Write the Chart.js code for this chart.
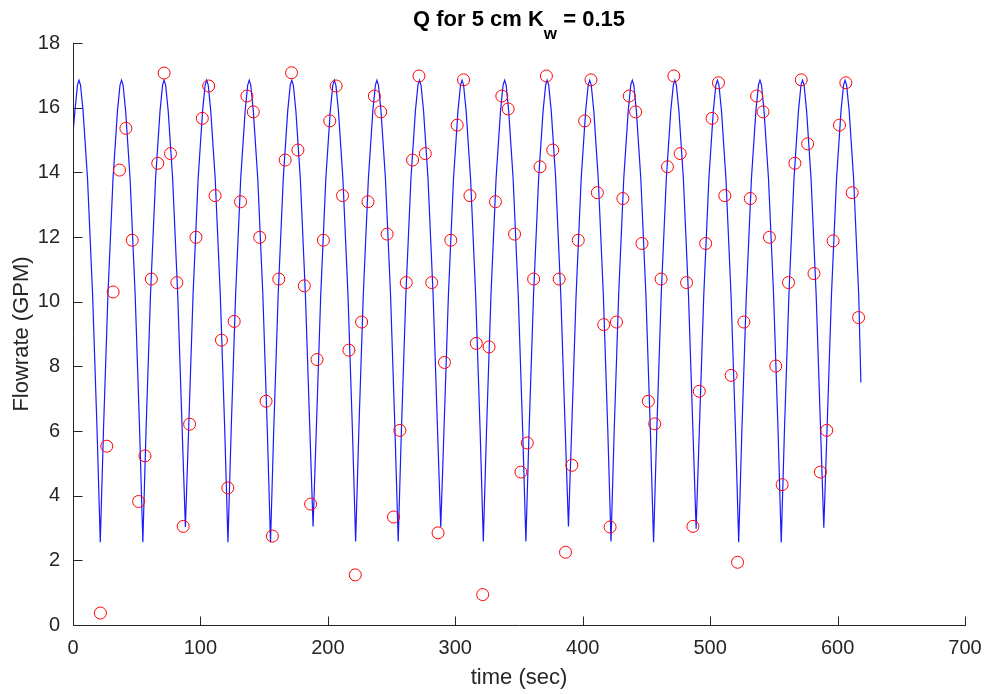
<!DOCTYPE html>
<html>
<head>
<meta charset="utf-8">
<script src="https://cdn.jsdelivr.net/npm/chart.js@4.4.1/dist/chart.umd.min.js"></script>
<style>
  html, body { margin: 0; padding: 0; background: #fff; }
  #wrap { width: 987px; height: 694px; }
</style>
</head>
<body>
<div id="wrap"><canvas id="chart" width="987" height="694"></canvas></div>
<script>
// labels
const titleMain = 'Q for 5 cm K';
const titleSub = 'w';
const titleTail = ' = 0.15';
const xLabel = 'time (sec)';
const yLabel = 'Flowrate (GPM)';

const xTicks = [0, 100, 200, 300, 400, 500, 600, 700];
const yTicks = [0, 2, 4, 6, 8, 10, 12, 14, 16, 18];

// measured flow (red circles), one every 5 s
const sampleTime = [
  21.5, 26.5, 31.5, 36.5, 41.5, 46.5, 51.5, 56.5, 61.5, 66.5,
  71.5, 76.5, 81.5, 86.5, 91.5, 96.5, 101.5, 106.5, 111.5, 116.5,
  121.5, 126.5, 131.5, 136.5, 141.5, 146.5, 151.5, 156.5, 161.5, 166.5,
  171.5, 176.5, 181.5, 186.5, 191.5, 196.5, 201.5, 206.5, 211.5, 216.5,
  221.5, 226.5, 231.5, 236.5, 241.5, 246.5, 251.5, 256.5, 261.5, 266.5,
  271.5, 276.5, 281.5, 286.5, 291.5, 296.5, 301.5, 306.5, 311.5, 316.5,
  321.5, 326.5, 331.5, 336.5, 341.5, 346.5, 351.5, 356.5, 361.5, 366.5,
  371.5, 376.5, 381.5, 386.5, 391.5, 396.5, 401.5, 406.5, 411.5, 416.5,
  421.5, 426.5, 431.5, 436.5, 441.5, 446.5, 451.5, 456.5, 461.5, 466.5,
  471.5, 476.5, 481.5, 486.5, 491.5, 496.5, 501.5, 506.5, 511.5, 516.5,
  521.5, 526.5, 531.5, 536.5, 541.5, 546.5, 551.5, 556.5, 561.5, 566.5,
  571.5, 576.5, 581.5, 586.5, 591.5, 596.5, 601.5, 606.5, 611.5, 616.5
];
const sampleFlow = [
  0.37, 5.53, 10.30, 14.07, 15.36, 11.90, 3.82, 5.23, 10.70, 14.28,
  17.07, 14.58, 10.59, 3.05, 6.21, 11.99, 15.67, 16.67, 13.28, 8.81,
  4.24, 9.39, 13.09, 16.36, 15.87, 11.99, 6.92, 2.75, 10.70, 14.38,
  17.08, 14.69, 10.49, 3.74, 8.21, 11.90, 15.59, 16.67, 13.28, 8.50,
  1.55, 9.37, 13.09, 16.36, 15.87, 12.09, 3.34, 6.02, 10.59, 14.38,
  16.98, 14.58, 10.59, 2.85, 8.12, 11.90, 15.46, 16.86, 13.28, 8.71,
  0.94, 8.60, 13.09, 16.36, 15.96, 12.09, 4.73, 5.63, 10.70, 14.17,
  16.98, 14.69, 10.70, 2.25, 4.94, 11.90, 15.59, 16.86, 13.37, 9.29,
  3.03, 9.37, 13.19, 16.36, 15.87, 11.80, 6.92, 6.22, 10.70, 14.17,
  16.98, 14.58, 10.59, 3.05, 7.23, 11.80, 15.67, 16.77, 13.28, 7.72,
  1.94, 9.37, 13.19, 16.36, 15.87, 11.99, 8.01, 4.34, 10.59, 14.28,
  16.86, 14.88, 10.87, 4.73, 6.02, 11.88, 15.46, 16.77, 13.37, 9.51
];

// model flow (blue line), one row per cycle
const modelTime = [
  0, 1.5, 3.5, 4.7, 5.9, 7.9, 11.4, 15.4, 18.9, 21.4,
  23.9, 27.4, 31.4, 34.9, 36.9, 38.1, 39.3, 41.3, 44.8, 48.8, 52.3, 54.8,
  57.3, 60.8, 64.8, 68.3, 70.3, 71.5, 72.7, 74.7, 78.2, 82.2, 85.7, 88.2,
  90.7, 94.2, 98.2, 101.7, 103.7, 104.9, 106.1, 108.1, 111.6, 115.6, 119.1, 121.6,
  124.1, 127.6, 131.6, 135.1, 137.1, 138.3, 139.5, 141.5, 145.0, 149.0, 152.5, 155.0,
  157.5, 161.0, 165.0, 168.5, 170.5, 171.7, 172.9, 174.9, 178.4, 182.4, 185.9, 188.4,
  190.9, 194.4, 198.4, 201.9, 203.9, 205.1, 206.3, 208.3, 211.8, 215.8, 219.3, 221.8,
  224.3, 227.8, 231.8, 235.3, 237.3, 238.5, 239.7, 241.7, 245.2, 249.2, 252.7, 255.2,
  257.7, 261.2, 265.2, 268.7, 270.7, 271.9, 273.1, 275.1, 278.6, 282.6, 286.1, 288.6,
  291.1, 294.6, 298.6, 302.1, 304.1, 305.3, 306.5, 308.5, 312.0, 316.0, 319.5, 322.0,
  324.5, 328.0, 332.0, 335.5, 337.5, 338.7, 339.9, 341.9, 345.4, 349.4, 352.9, 355.4,
  357.9, 361.4, 365.4, 368.9, 370.9, 372.1, 373.3, 375.3, 378.8, 382.8, 386.3, 388.8,
  391.3, 394.8, 398.8, 402.3, 404.3, 405.5, 406.7, 408.7, 412.2, 416.2, 419.7, 422.2,
  424.7, 428.2, 432.2, 435.7, 437.7, 438.9, 440.1, 442.1, 445.6, 449.6, 453.1, 455.6,
  458.1, 461.6, 465.6, 469.1, 471.1, 472.3, 473.5, 475.5, 479.0, 483.0, 486.5, 489.0,
  491.5, 495.0, 499.0, 502.5, 504.5, 505.7, 506.9, 508.9, 512.4, 516.4, 519.9, 522.4,
  524.9, 528.4, 532.4, 535.9, 537.9, 539.1, 540.3, 542.3, 545.8, 549.8, 553.3, 555.8,
  558.3, 561.8, 565.8, 569.3, 571.3, 572.5, 573.7, 575.7, 579.2, 583.2, 586.7, 589.2,
  591.7, 595.2, 599.2, 602.7, 604.7, 605.9, 607.1, 609.1, 612.6, 616.6, 618.3
];
const modelFlow = [
  15.2, 15.9, 16.7, 16.85, 16.7, 15.9, 13.8, 10.2, 6.0, 2.56,
  6.0, 10.2, 13.8, 15.9, 16.7, 16.85, 16.7, 15.9, 13.8, 10.2, 6.0, 2.56,
  6.0, 10.2, 13.8, 15.9, 16.7, 16.85, 16.7, 15.9, 13.8, 10.2, 6.0, 3.03,
  6.0, 10.2, 13.8, 15.9, 16.7, 16.85, 16.7, 15.9, 13.8, 10.2, 6.0, 2.56,
  6.0, 10.2, 13.8, 15.9, 16.7, 16.85, 16.7, 15.9, 13.8, 10.2, 6.0, 2.56,
  6.0, 10.2, 13.8, 15.9, 16.7, 16.85, 16.7, 15.9, 13.8, 10.2, 6.0, 3.05,
  6.0, 10.2, 13.8, 15.9, 16.7, 16.85, 16.7, 15.9, 13.8, 10.2, 6.0, 2.58,
  6.0, 10.2, 13.8, 15.9, 16.7, 16.85, 16.7, 15.9, 13.8, 10.2, 6.0, 2.58,
  6.0, 10.2, 13.8, 15.9, 16.7, 16.85, 16.7, 15.9, 13.8, 10.2, 6.0, 3.03,
  6.0, 10.2, 13.8, 15.9, 16.7, 16.85, 16.7, 15.9, 13.8, 10.2, 6.0, 2.58,
  6.0, 10.2, 13.8, 15.9, 16.7, 16.85, 16.7, 15.9, 13.8, 10.2, 6.0, 2.58,
  6.0, 10.2, 13.8, 15.9, 16.7, 16.85, 16.7, 15.9, 13.8, 10.2, 6.0, 3.05,
  6.0, 10.2, 13.8, 15.9, 16.7, 16.85, 16.7, 15.9, 13.8, 10.2, 6.0, 2.58,
  6.0, 10.2, 13.8, 15.9, 16.7, 16.85, 16.7, 15.9, 13.8, 10.2, 6.0, 2.56,
  6.0, 10.2, 13.8, 15.9, 16.7, 16.85, 16.7, 15.9, 13.8, 10.2, 6.0, 2.98,
  6.0, 10.2, 13.8, 15.9, 16.7, 16.85, 16.7, 15.9, 13.8, 10.2, 6.0, 2.56,
  6.0, 10.2, 13.8, 15.9, 16.7, 16.85, 16.7, 15.9, 13.8, 10.2, 6.0, 2.55,
  6.0, 10.2, 13.8, 15.9, 16.7, 16.85, 16.7, 15.9, 13.8, 10.2, 6.0, 3.01,
  6.0, 10.2, 13.8, 15.9, 16.7, 16.85, 16.7, 15.9, 13.8, 10.2, 7.5
];

const axisColor = '#262626';
const fontFamily = '"Liberation Sans", Arial, Helvetica, sans-serif';

const samplePoints = sampleTime.map((t, i) => ({ x: t, y: sampleFlow[i] }));
const modelPoints = modelTime.map((t, i) => ({ x: t, y: modelFlow[i] }));

// matlab style: axis lines with ticks pointing inwards, plus the title with its subscript
const matlabAxes = {
    id: 'matlabAxes',
    afterDatasetsDraw(chart) {
        const { ctx, chartArea: a, scales: { x, y } } = chart;
        const left = Math.round(a.left) + 0.5;
        const bottom = Math.round(a.bottom) + 0.5;
        ctx.save();
        ctx.strokeStyle = axisColor;
        ctx.lineWidth = 1;
        ctx.beginPath();
        ctx.moveTo(left, Math.round(a.top));
        ctx.lineTo(left, bottom);
        ctx.lineTo(Math.round(a.right) + 1, bottom);
        xTicks.forEach(v => {
            const px = Math.round(x.getPixelForValue(v)) + 0.5;
            ctx.moveTo(px, bottom);
            ctx.lineTo(px, bottom - 9);
        });
        yTicks.forEach(v => {
            const py = Math.round(y.getPixelForValue(v)) + 0.5;
            ctx.moveTo(left, py);
            ctx.lineTo(left + 9, py);
        });
        ctx.stroke();

        // title
        const mainFont = 'bold 22px ' + fontFamily;
        const subFont = 'bold 17px ' + fontFamily;
        ctx.fillStyle = '#000';
        ctx.textBaseline = 'alphabetic';
        ctx.textAlign = 'left';
        ctx.font = mainFont;
        const w1 = ctx.measureText(titleMain).width;
        const w3 = ctx.measureText(titleTail).width;
        ctx.font = subFont;
        const w2 = ctx.measureText(titleSub).width;
        let tx = (a.left + a.right) / 2 - (w1 + w2 + w3) / 2;
        const base = 26;
        ctx.font = mainFont;
        ctx.fillText(titleMain, tx, base);
        tx += w1;
        ctx.font = subFont;
        ctx.fillText(titleSub, tx, base + 13);
        tx += w2;
        ctx.font = mainFont;
        ctx.fillText(titleTail, tx, base);
        ctx.restore();
    }
};

new Chart(document.getElementById('chart'), {
    type: 'scatter',
    data: {
        datasets: [
            {
                label: 'measured',
                data: samplePoints,
                order: 0,
                showLine: false,
                pointStyle: 'circle',
                pointRadius: 6,
                pointHoverRadius: 6,
                pointBorderWidth: 1,
                borderColor: '#ff0000',
                backgroundColor: 'rgba(0,0,0,0)',
                pointBorderColor: '#ff0000',
                pointBackgroundColor: 'rgba(0,0,0,0)'
            },
            {
                label: 'model',
                data: modelPoints,
                order: 1,
                showLine: true,
                borderColor: '#1a1aff',
                borderWidth: 1.2,
                pointRadius: 0,
                pointHoverRadius: 0,
                tension: 0,
                fill: false
            }
        ]
    },
    options: {
        responsive: false,
        animation: false,
        devicePixelRatio: 1,
        events: [],
        layout: { padding: { left: 0, right: 22, top: 43, bottom: 0 } },
        plugins: {
            legend: { display: false },
            tooltip: { enabled: false },
            title: { display: false }
        },
        scales: {
            x: {
                type: 'linear',
                min: 0,
                max: 700,
                afterBuildTicks: s => { s.ticks = xTicks.map(v => ({ value: v })); },
                afterFit: s => { s.height = 69; s.paddingLeft = 0; s.paddingRight = 0; },
                grid: { display: false },
                border: { display: false },
                ticks: {
                    color: axisColor,
                    font: { family: fontFamily, size: 20 },
                    padding: 3,
                    maxRotation: 0,
                    autoSkip: false
                },
                title: {
                    display: true,
                    text: xLabel,
                    color: axisColor,
                    font: { family: fontFamily, size: 22 },
                    padding: { top: 0, bottom: 3 }
                }
            },
            y: {
                type: 'linear',
                min: 0,
                max: 18,
                afterBuildTicks: s => { s.ticks = yTicks.map(v => ({ value: v })); },
                afterFit: s => { s.width = 73; s.paddingTop = 0; s.paddingBottom = 0; },
                grid: { display: false },
                border: { display: false },
                ticks: {
                    color: axisColor,
                    font: { family: fontFamily, size: 20 },
                    padding: 5,
                    autoSkip: false
                },
                title: {
                    display: true,
                    text: yLabel,
                    color: axisColor,
                    font: { family: fontFamily, size: 22 },
                    padding: { top: 9, bottom: 0 }
                }
            }
        }
    },
    plugins: [matlabAxes]
});
</script>
</body>
</html>
